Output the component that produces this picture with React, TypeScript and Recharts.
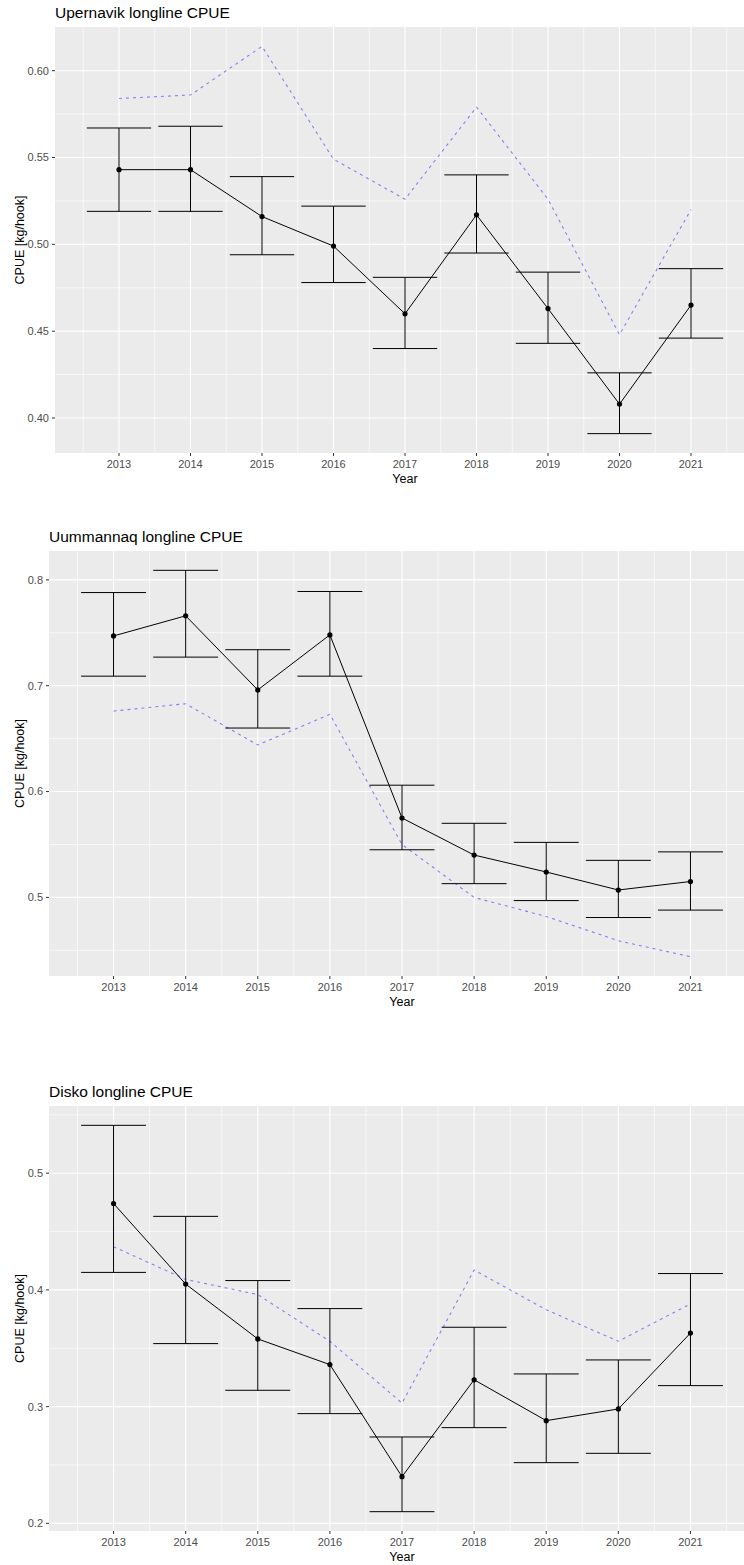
import React from "react";
import { CartesianGrid, ComposedChart, ErrorBar, Label, Line, XAxis, YAxis } from "recharts";

const years = [2013, 2014, 2015, 2016, 2017, 2018, 2019, 2020, 2021];
const minorYears = [2012.5, 2013.5, 2014.5, 2015.5, 2016.5, 2017.5, 2018.5, 2019.5, 2020.5, 2021.5];

// Upernavik
const upCpue = [0.543, 0.543, 0.516, 0.499, 0.46, 0.517, 0.463, 0.408, 0.465];
const upLow = [0.519, 0.519, 0.494, 0.478, 0.44, 0.495, 0.443, 0.391, 0.446];
const upHigh = [0.567, 0.568, 0.539, 0.522, 0.481, 0.54, 0.484, 0.426, 0.486];
const upRef = [0.584, 0.586, 0.614, 0.549, 0.526, 0.579, 0.526, 0.448, 0.52];
const upTicks = [0.4, 0.45, 0.5, 0.55, 0.6];
const upMinor = [0.425, 0.475, 0.525, 0.575];

// Uummannaq
const umCpue = [0.747, 0.766, 0.696, 0.748, 0.575, 0.54, 0.524, 0.507, 0.515];
const umLow = [0.709, 0.727, 0.66, 0.709, 0.545, 0.513, 0.497, 0.481, 0.488];
const umHigh = [0.788, 0.809, 0.734, 0.789, 0.606, 0.57, 0.552, 0.535, 0.543];
const umRef = [0.676, 0.683, 0.644, 0.673, 0.55, 0.5, 0.482, 0.459, 0.444];
const umTicks = [0.5, 0.6, 0.7, 0.8];
const umMinor = [0.45, 0.55, 0.65, 0.75];

// Disko
const diCpue = [0.474, 0.405, 0.358, 0.336, 0.24, 0.323, 0.288, 0.298, 0.363];
const diLow = [0.415, 0.354, 0.314, 0.294, 0.21, 0.282, 0.252, 0.26, 0.318];
const diHigh = [0.541, 0.463, 0.408, 0.384, 0.274, 0.368, 0.328, 0.34, 0.414];
const diRef = [0.437, 0.409, 0.396, 0.356, 0.303, 0.417, 0.383, 0.356, 0.388];
const diTicks = [0.2, 0.3, 0.4, 0.5];
const diMinor = [0.25, 0.35, 0.45, 0.55];

const font = '"Liberation Sans", Arial, sans-serif';
const CHART_W = 760;
const TOP = 27;
const X_AXIS_H = 40;
const X_MIN = 2012.105;
const X_MAX = 2021.895;

function Panel({
  title,
  top,
  yWidth,
  plotH,
  cpue,
  low,
  high,
  ref,
  ticks,
  minor,
  digits,
}: {
  title: string;
  top: number;
  yWidth: number;
  plotH: number;
  cpue: number[];
  low: number[];
  high: number[];
  ref: number[];
  ticks: number[];
  minor: number[];
  digits: number;
}) {
  const data = years.map((year, i) => ({
    year,
    cpue: cpue[i],
    err: [cpue[i] - low[i], high[i] - cpue[i]],
    ref: ref[i],
  }));
  // ggplot-style limits: data range + 5% each side
  const all = [...low, ...high, ...ref];
  const lo = Math.min(...all);
  const hi = Math.max(...all);
  const pad = (hi - lo) * 0.05;
  const plotW = CHART_W - yWidth - 5;
  const capHalf = (plotW / (X_MAX - X_MIN)) * 0.45;
  const h = TOP + plotH + X_AXIS_H;

  return (
    <div style={{ position: "absolute", left: 0, top, width: CHART_W, height: h }}>
      <div
        style={{
          position: "absolute",
          left: yWidth,
          top: 4,
          fontFamily: font,
          fontSize: 15.5,
          lineHeight: "18px",
          color: "#000",
          whiteSpace: "nowrap",
        }}
      >
        {title}
      </div>
      <ComposedChart width={CHART_W} height={h} data={data} margin={{ top: TOP, right: 5, bottom: 0, left: 0 }}>
        <CartesianGrid
          fill="#EBEBEB"
          stroke="#FFFFFF"
          strokeWidth={0.6}
          horizontalValues={minor}
          verticalValues={minorYears}
        />
        <CartesianGrid
          fill="none"
          stroke="#FFFFFF"
          strokeWidth={1.1}
          horizontalValues={ticks}
          verticalValues={years}
        />
        <XAxis
          type="number"
          dataKey="year"
          domain={[X_MIN, X_MAX]}
          allowDataOverflow
          ticks={years}
          interval={0}
          height={X_AXIS_H}
          axisLine={false}
          tickSize={3}
          tickMargin={4}
          tickLine={{ stroke: "#333333" }}
          tick={{ fill: "#4D4D4D", fontSize: 11, fontFamily: font }}
        >
          <Label
            content={(p: any) => {
              const vb = p.viewBox || {};
              return (
                <text
                  x={vb.x + vb.width / 2}
                  y={vb.y + 30}
                  textAnchor="middle"
                  fontSize={12.5}
                  fontFamily={font}
                  fill="#000"
                >
                  Year
                </text>
              );
            }}
          />
        </XAxis>
        <YAxis
          type="number"
          domain={[lo - pad, hi + pad]}
          allowDataOverflow
          ticks={ticks}
          interval={0}
          width={yWidth}
          axisLine={false}
          tickSize={3}
          tickMargin={3}
          tickLine={{ stroke: "#333333" }}
          tick={{ fill: "#4D4D4D", fontSize: 11, fontFamily: font }}
          tickFormatter={(v: number) => v.toFixed(digits)}
        >
          <Label
            content={(p: any) => {
              const vb = p.viewBox || {};
              const cy = vb.y + vb.height / 2;
              return (
                <text
                  x={23.5}
                  y={cy}
                  transform={`rotate(-90, 23.5, ${cy})`}
                  textAnchor="middle"
                  fontSize={12.5}
                  fontFamily={font}
                  fill="#000"
                >
                  CPUE [kg/hook]
                </text>
              );
            }}
          />
        </YAxis>
        <Line
          type="linear"
          dataKey="cpue"
          stroke="#000"
          strokeWidth={1}
          dot={{ r: 2.6, fill: "#000", stroke: "#000", strokeWidth: 0 }}
          activeDot={false}
          isAnimationActive={false}
        >
          <ErrorBar dataKey="err" direction="y" width={capHalf} stroke="#000" strokeWidth={1} />
        </Line>
        <Line
          type="linear"
          dataKey="ref"
          stroke="#0000FF"
          strokeOpacity={0.45}
          strokeWidth={1.1}
          strokeDasharray="3 4"
          dot={false}
          activeDot={false}
          isAnimationActive={false}
        />
      </ComposedChart>
    </div>
  );
}

export default function App() {
  return (
    <div
      style={{
        position: "absolute",
        left: 0,
        top: 0,
        width: 744,
        height: 1565,
        overflow: "hidden",
        background: "#fff",
      }}
    >
      <Panel
        title="Upernavik longline CPUE"
        top={0}
        yWidth={55}
        plotH={426}
        cpue={upCpue}
        low={upLow}
        high={upHigh}
        ref={upRef}
        ticks={upTicks}
        minor={upMinor}
        digits={2}
      />
      <Panel
        title="Uummannaq longline CPUE"
        top={524}
        yWidth={49}
        plotH={425}
        cpue={umCpue}
        low={umLow}
        high={umHigh}
        ref={umRef}
        ticks={umTicks}
        minor={umMinor}
        digits={1}
      />
      <Panel
        title="Disko longline CPUE"
        top={1079}
        yWidth={49}
        plotH={425}
        cpue={diCpue}
        low={diLow}
        high={diHigh}
        ref={diRef}
        ticks={diTicks}
        minor={diMinor}
        digits={1}
      />
    </div>
  );
}
